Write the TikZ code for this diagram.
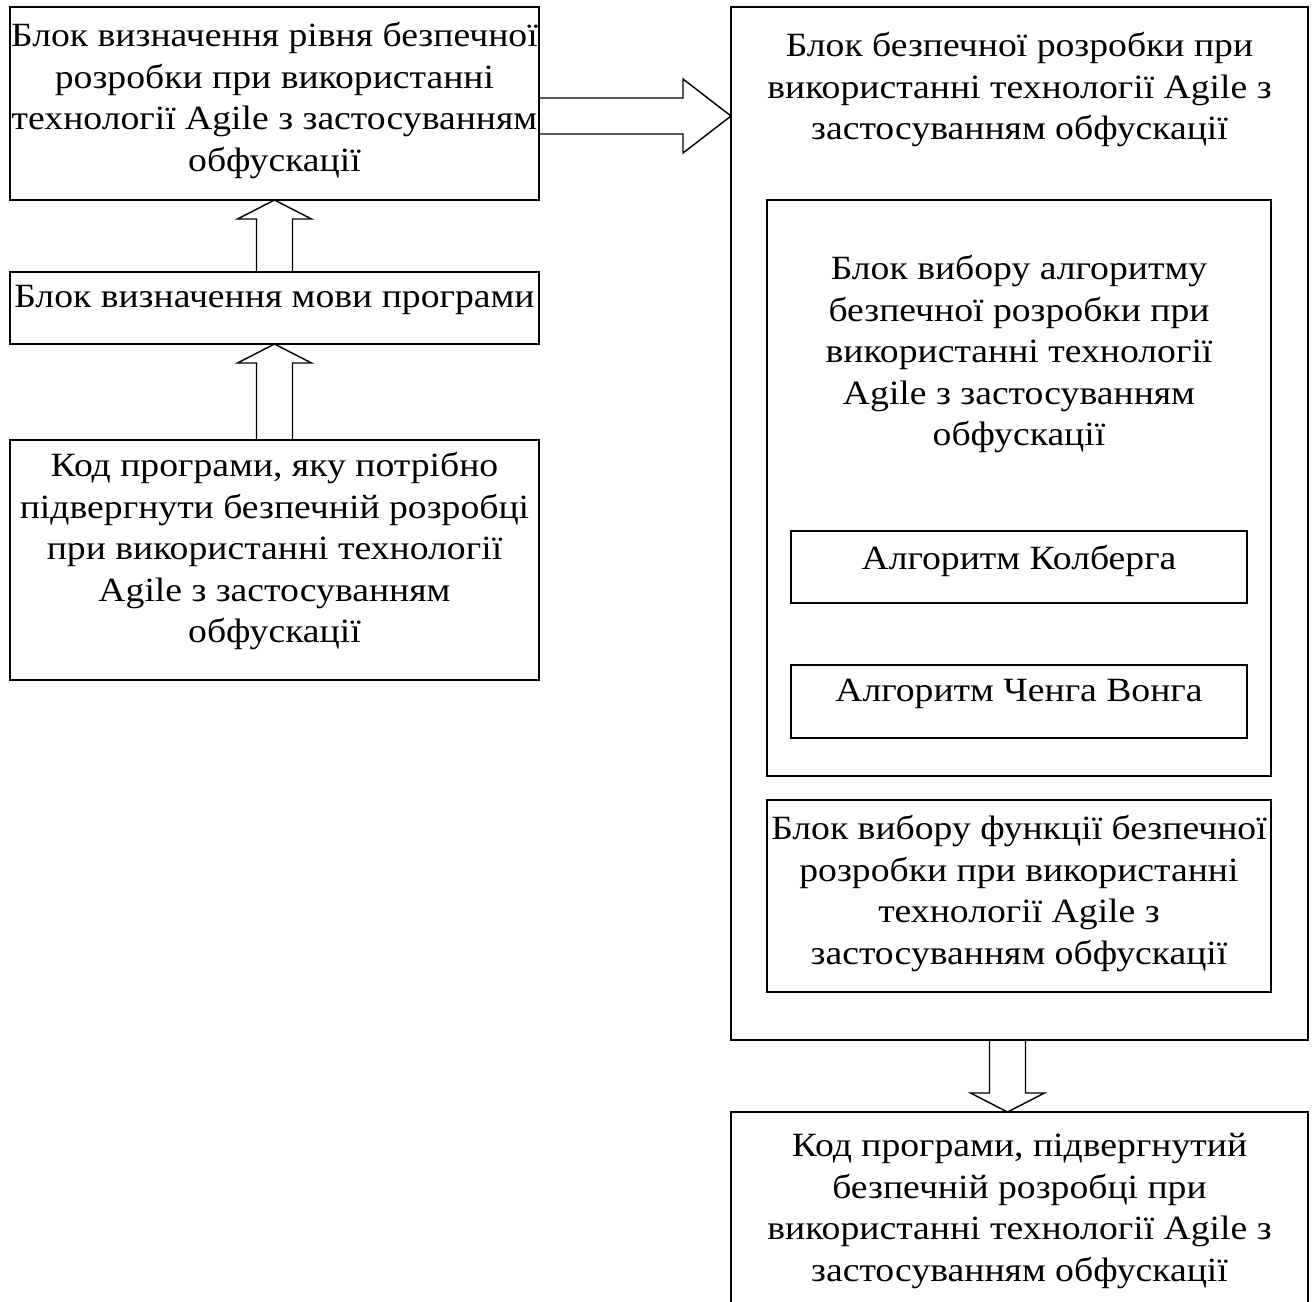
\documentclass[tikz,border=0pt]{standalone}
\usepackage{fontspec}
\setmainfont{Liberation Serif}[FakeStretch=1.11]
\usetikzlibrary{calc, fit}

\tikzset{
    box/.style={draw, line width=0.55pt, inner sep=0pt, outer sep=0pt},
    caption/.style={align=center, inner sep=0pt, anchor=north, font=\fontsize{13}{15.9}\selectfont},
    hollow/.style={draw, line width=0.55pt, line join=miter},
}

\begin{document}
\begin{tikzpicture}[x=0.383pt, y=-0.383pt]
    % variables
    \pgfmathsetmacro{\vShaft}{18}
    \pgfmathsetmacro{\vHead}{37}
    \pgfmathsetmacro{\vTipV}{19}
    \pgfmathsetmacro{\vTipH}{48}

    \useasboundingbox (0,0) rectangle (1315,1301);
    \clip (0,0) rectangle (1315,1301);

    % left column
    \node[box, fit={(10,7) (539,200)}] (level) {};
    \node[box, fit={(10,272) (539,344)}] (lang) {};
    \node[box, fit={(10,440) (539,680)}] (src) {};

    \node[caption] (tLevel) at ($(level.north)+(0,15)$)
        {Блок визначення рівня безпечної\\розробки при використанні\\технології Agile з застосуванням\\обфускації};
    \node[caption] (tLang) at ($(lang.north)+(0,13)$) {Блок визначення мови програми};
    \node[caption] (tSrc) at ($(src.north)+(0,12)$)
        {Код програми, яку потрібно\\підвергнути безпечній розробці\\при використанні технології\\Agile з застосуванням\\обфускації};

    % right column
    \node[box, fit={(731,7) (1308,1040)}] (secure) {};
    \node[box, fit={(767,200) (1271,776)}] (algo) {};
    \node[box, fit={(791,531) (1247,603)}] (kohlberg) {};
    \node[box, fit={(791,665) (1247,738)}] (wong) {};
    \node[box, fit={(767,800) (1271,992)}] (func) {};
    \node[box, fit={(731,1112) (1308,1330)}] (result) {};

    \node[caption] (tSecure) at ($(secure.north)+(0,25)$)
        {Блок безпечної розробки при\\використанні технології Agile з\\застосуванням обфускації};
    \node[caption] (tAlgo) at ($(algo.north)+(0,55)$)
        {Блок вибору алгоритму\\безпечної розробки при\\використанні технології\\Agile з застосуванням\\обфускації};
    \node[caption] (tKohlberg) at ($(kohlberg.north)+(0,14)$) {Алгоритм Колберга};
    \node[caption] (tWong) at ($(wong.north)+(0,14)$) {Алгоритм Ченга Вонга};
    \node[caption] (tFunc) at ($(func.north)+(0,15)$)
        {Блок вибору функції безпечної\\розробки при використанні\\технології Agile з\\застосуванням обфускації};
    \node[caption] (tResult) at ($(result.north)+(0,21)$)
        {Код програми, підвергнутий\\безпечній розробці при\\використанні технології Agile з\\застосуванням обфускації};

    % block arrows
    \coordinate (rTail) at ($(level.east)+(0,12.5)$);
    \coordinate (rTip) at (secure.west |- rTail);
    \draw[hollow] ($(rTail)+(0,-\vShaft)$) -- ($(rTip)+(-\vTipH,-\vShaft)$) -- ($(rTip)+(-\vTipH,-\vHead)$)
        -- (rTip) -- ($(rTip)+(-\vTipH,\vHead)$) -- ($(rTip)+(-\vTipH,\vShaft)$) -- ($(rTail)+(0,\vShaft)$);

    \draw[hollow] ($(lang.north)+(-\vShaft,0)$) -- ($(level.south)+(-\vShaft,\vTipV)$) -- ($(level.south)+(-\vHead,\vTipV)$)
        -- (level.south) -- ($(level.south)+(\vHead,\vTipV)$) -- ($(level.south)+(\vShaft,\vTipV)$) -- ($(lang.north)+(\vShaft,0)$);
    \draw[hollow] ($(src.north)+(-\vShaft,0)$) -- ($(lang.south)+(-\vShaft,\vTipV)$) -- ($(lang.south)+(-\vHead,\vTipV)$)
        -- (lang.south) -- ($(lang.south)+(\vHead,\vTipV)$) -- ($(lang.south)+(\vShaft,\vTipV)$) -- ($(src.north)+(\vShaft,0)$);

    \coordinate (dTail) at ($(secure.south)+(-12,0)$);
    \coordinate (dTip) at (dTail |- result.north);
    \draw[hollow] ($(dTail)+(-\vShaft,0)$) -- ($(dTip)+(-\vShaft,-\vTipV)$) -- ($(dTip)+(-\vHead,-\vTipV)$)
        -- (dTip) -- ($(dTip)+(\vHead,-\vTipV)$) -- ($(dTip)+(\vShaft,-\vTipV)$) -- ($(dTail)+(\vShaft,0)$);
\end{tikzpicture}
\end{document}
